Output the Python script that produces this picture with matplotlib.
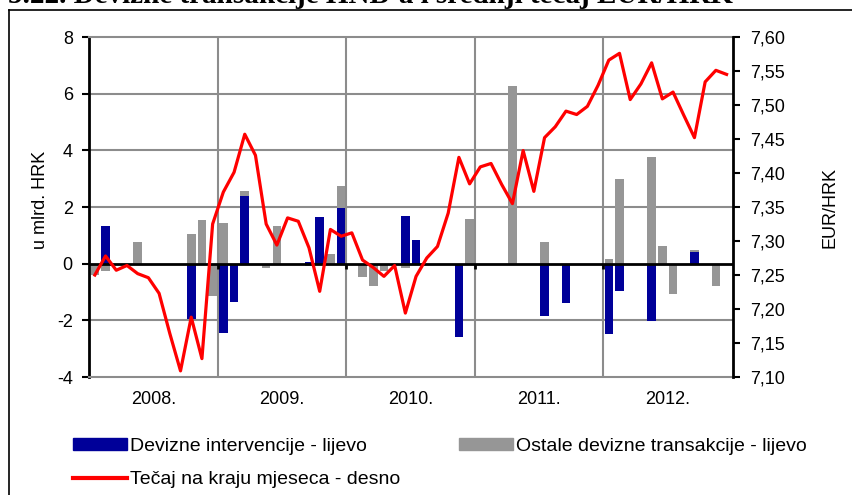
import matplotlib
matplotlib.use('Agg')
import matplotlib.pyplot as plt
import numpy as np
from matplotlib.lines import Line2D
from matplotlib.patches import Patch
from matplotlib.ticker import FuncFormatter

plt.rcParams['font.family'] = ['Liberation Sans', 'DejaVu Sans']
plt.rcParams['axes.unicode_minus'] = False

years = ['2008.', '2009.', '2010.', '2011.', '2012.']

# monthly values, Jan 2008 - Dec 2012 (60 months)
interventions = [0, 1.32, 0, 0, 0, 0, 0, 0, 0, -1.94, 0, 0,
                 -2.45, -1.36, 2.4, 0, 0, 0, 0, 0, 0.05, 1.64, 0, 1.96,
                 0, 0, 0, 0, 0, 1.7, 0.85, 0, 0, 0, -2.59, 0,
                 0, 0, 0, 0, 0, 0, -1.84, 0, -1.39, 0, 0, 0,
                 -2.47, -0.98, 0, 0, -2.04, 0, 0, 0, 0.41, 0, 0, 0]

other = [-0.4, -0.27, 0, 0, 0.75, 0, 0, 0, 0, 1.06, 1.55, -1.13,
         1.44, 0, 2.58, 0, -0.15, 1.32, 0, 0, -0.07, 0, 0.35, 2.73,
         0, -0.48, -0.8, -0.27, 0, -0.15, 0, 0, 0, 0, 0, 1.58,
         0, 0, 0, 6.26, 0, 0, 0.75, 0, 0, 0, 0, 0,
         0.16, 2.99, 0, 0, 3.75, 0.61, -1.07, 0, 0.48, 0, -0.8, 0]

rate = [7.250, 7.278, 7.257, 7.264, 7.252, 7.246, 7.223, 7.164, 7.109, 7.188, 7.127, 7.325,
        7.372, 7.401, 7.457, 7.426, 7.325, 7.294, 7.334, 7.329, 7.290, 7.226, 7.317, 7.307,
        7.312, 7.272, 7.261, 7.248, 7.264, 7.194, 7.248, 7.275, 7.292, 7.341, 7.423, 7.384,
        7.409, 7.414, 7.383, 7.355, 7.433, 7.373, 7.452, 7.468, 7.491, 7.486, 7.498, 7.529,
        7.566, 7.576, 7.508, 7.531, 7.562, 7.509, 7.519, 7.485, 7.452, 7.534, 7.551, 7.545]

blue = '#000099'
gray = '#969696'
grid = '#8c8c8c'

fig = plt.figure(figsize=(8.53, 4.95), dpi=100)
ax = fig.add_axes([89.5 / 853, 1 - 377 / 495, (733 - 89.5) / 853, (377 - 37) / 495])
ax2 = ax.twinx()

x = np.arange(len(rate))
ax.bar(x, other, width=0.8, color=gray, zorder=2)
ax.bar(x, interventions, width=0.8, color=blue, zorder=3)
ax.axhline(0, color='black', lw=2, zorder=4)

ax.set_xlim(-0.5, 59.6)
ax.set_ylim(-4, 8)
ax.set_yticks(np.arange(-4, 9, 2))
for v in np.arange(-2, 8, 2):
    if v != 0:
        ax.axhline(v, color=grid, lw=1.5, zorder=1)
bounds = [11.5, 23.5, 35.5, 47.5]
for b in bounds:
    ax.axvline(b, color=grid, lw=1.5, zorder=1)
ax.vlines(bounds, -0.2, 0, color='black', lw=2, zorder=4)

ax.set_xticks([5.5, 17.5, 29.5, 41.5, 53.5])
ax.set_xticklabels(years)
ax.tick_params(axis='x', length=0, pad=10, labelsize=13)
ax.tick_params(axis='y', direction='out', length=5, width=1.5, pad=7, labelsize=13)

ax.spines['left'].set_linewidth(2)
ax.spines['left'].set_color('black')
for s in ['top', 'bottom']:
    ax.spines[s].set_color(grid)
    ax.spines[s].set_linewidth(1.5)
ax.spines['right'].set_visible(False)

ax.set_ylabel('u mlrd. HRK', fontsize=13)
ax.yaxis.set_label_coords(-0.063, 0.52)

ax2.plot(x, rate, color='#ff0000', lw=2.3, zorder=5)
ax2.set_ylim(7.10, 7.60)
ax2.set_yticks(np.arange(7.10, 7.601, 0.05))
ax2.yaxis.set_major_formatter(FuncFormatter(lambda v, p: ('%.2f' % v).replace('.', ',')))
ax2.tick_params(axis='y', direction='out', length=5, width=1.5, pad=7, labelsize=13)
ax2.spines['right'].set_linewidth(2)
ax2.spines['right'].set_color('black')
for s in ['top', 'bottom', 'left']:
    ax2.spines[s].set_visible(False)
ax2.set_ylabel('EUR/HRK', fontsize=13)
ax2.yaxis.set_label_coords(1.137, 0.5)

handles = [Patch(color=blue), Line2D([], [], color='#ff0000', lw=3), Patch(color=gray)]
labels = ['Devizne intervencije - lijevo', 'Tečaj na kraju mjeseca - desno',
          'Ostale devizne transakcije - lijevo']
fig.legend(handles, labels, ncol=2, loc='upper left', bbox_to_anchor=(65 / 853, 1 - 430 / 495),
           frameon=False, fontsize=14, handlelength=2.8, handleheight=0.57, handletextpad=0.15,
           columnspacing=3.0, labelspacing=0.85, borderaxespad=0)

# frame and cropped title
fig.add_artist(Line2D([9 / 853, 1], [1 - 10 / 495, 1 - 10 / 495], color='black', lw=1.2))
fig.add_artist(Line2D([9 / 853, 9 / 853], [0, 1 - 10 / 495], color='black', lw=1.2))
fig.text(8 / 853, 1 - 3 / 495, '5.22. Devizne transakcije HNB-a i srednji tečaj EUR/HRK',
         family='Liberation Serif', weight='bold', fontsize=21, va='baseline')

fig.savefig('out.png', dpi=100)
